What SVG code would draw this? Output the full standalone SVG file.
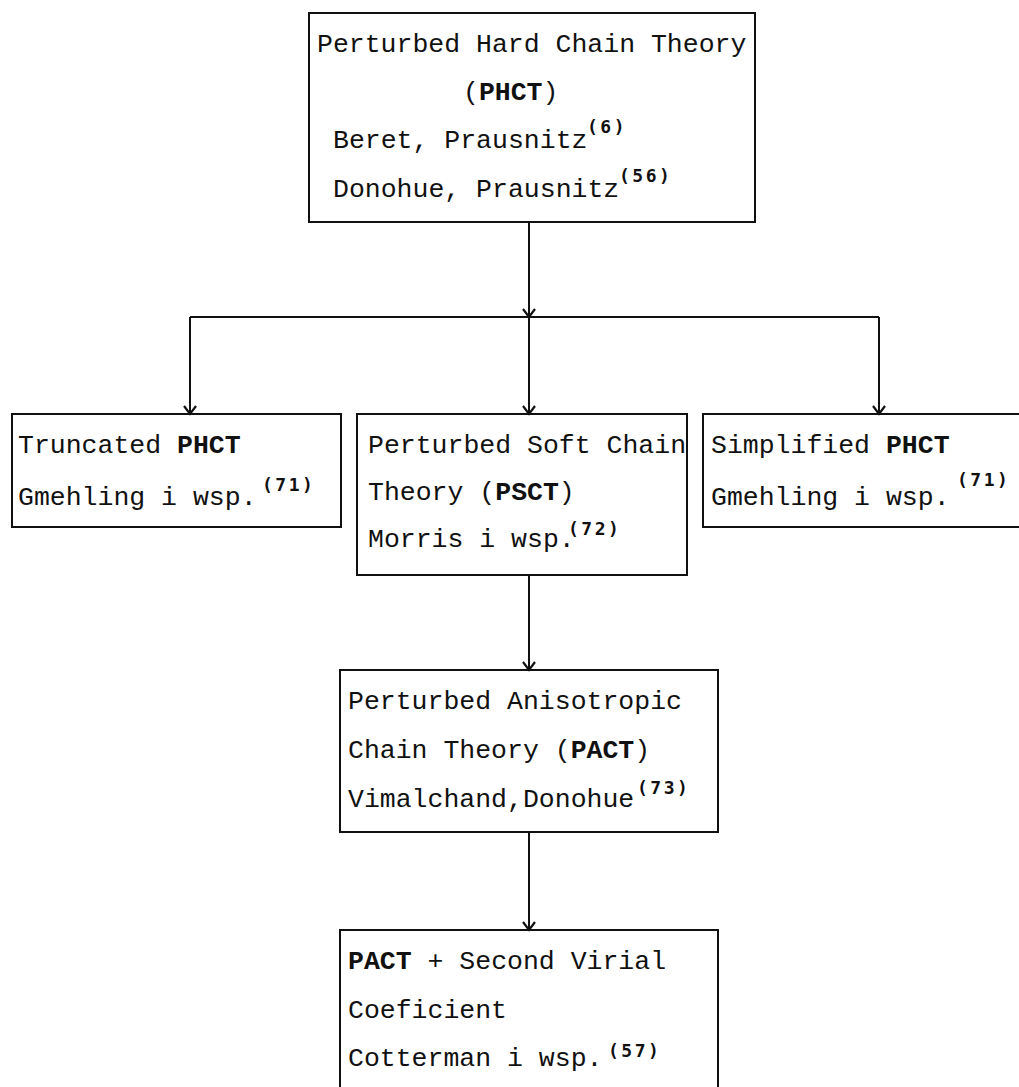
<svg xmlns="http://www.w3.org/2000/svg" width="1019" height="1087" viewBox="0 0 1019 1087">
<defs>
<style>
.box{fill:none;stroke:#111;stroke-width:2}
.t{font-family:"Liberation Mono","DejaVu Sans Mono",monospace;font-size:26.5px;fill:#111}
.b{font-weight:bold}
.sup{font-family:"DejaVu Sans Mono","Liberation Mono",monospace;font-size:18px;font-weight:bold;letter-spacing:2.5px;fill:#111}
.ln{fill:none;stroke:#111;stroke-width:2}
</style>
<marker id="ah" viewBox="-10 -8 12 16" refX="0" refY="0" markerWidth="12" markerHeight="16" markerUnits="userSpaceOnUse" orient="auto">
<path d="M-8,-6 L0,0 L-8,6" fill="none" stroke="#111" stroke-width="2.2"/>
</marker>
</defs>
<rect width="1019" height="1087" fill="#fff"/>
<g id="connectors">
<line class="ln" x1="529" y1="222" x2="529" y2="317" marker-end="url(#ah)"/>
<line class="ln" x1="190" y1="317" x2="879" y2="317"/>
<line class="ln" x1="529" y1="317" x2="529" y2="414" marker-end="url(#ah)"/>
<line class="ln" x1="190" y1="317" x2="190" y2="414" marker-end="url(#ah)"/>
<line class="ln" x1="879" y1="317" x2="879" y2="414" marker-end="url(#ah)"/>
<line class="ln" x1="529" y1="575" x2="529" y2="670" marker-end="url(#ah)"/>
<line class="ln" x1="529" y1="832" x2="529" y2="930" marker-end="url(#ah)"/>
</g>
<g id="phct">
<rect class="box" x="309" y="13" width="446" height="209"/>
<text class="t" x="317" y="52">Perturbed Hard Chain Theory</text>
<text class="t" x="463" y="100">(<tspan class="b">PHCT</tspan>)</text>
<text class="t" x="333" y="148">Beret, Prausnitz</text>
<text class="sup" x="587" y="133">(6)</text>
<text class="t" x="333" y="197">Donohue, Prausnitz</text>
<text class="sup" x="619" y="182">(56)</text>
</g>
<g id="truncated">
<rect class="box" x="12" y="414" width="329" height="113"/>
<text class="t" x="18" y="453">Truncated <tspan class="b">PHCT</tspan></text>
<text class="t" x="18" y="505">Gmehling i wsp.</text>
<text class="sup" x="262" y="491">(71)</text>
</g>
<g id="psct">
<rect class="box" x="357" y="414" width="330" height="161"/>
<text class="t" x="368" y="453">Perturbed Soft Chain</text>
<text class="t" x="368" y="500">Theory (<tspan class="b">PSCT</tspan>)</text>
<text class="t" x="368" y="547">Morris i wsp.</text>
<text class="sup" x="568" y="535">(72)</text>
</g>
<g id="simplified">
<rect class="box" x="703" y="414" width="340" height="113"/>
<text class="t" x="711" y="453">Simplified <tspan class="b">PHCT</tspan></text>
<text class="t" x="711" y="505">Gmehling i wsp.</text>
<text class="sup" x="957" y="486">(71)</text>
</g>
<g id="pact">
<rect class="box" x="340" y="670" width="378" height="162"/>
<text class="t" x="348" y="709">Perturbed Anisotropic</text>
<text class="t" x="348" y="758">Chain Theory (<tspan class="b">PACT</tspan>)</text>
<text class="t" x="348" y="807">Vimalchand,Donohue</text>
<text class="sup" x="637" y="794">(73)</text>
</g>
<g id="pact2">
<rect class="box" x="340" y="930" width="378" height="180"/>
<text class="t" x="348" y="969"><tspan class="b">PACT</tspan> + Second Virial</text>
<text class="t" x="348" y="1018">Coeficient</text>
<text class="t" x="348" y="1066">Cotterman i wsp.</text>
<text class="sup" x="608" y="1057">(57)</text>
</g>
</svg>
